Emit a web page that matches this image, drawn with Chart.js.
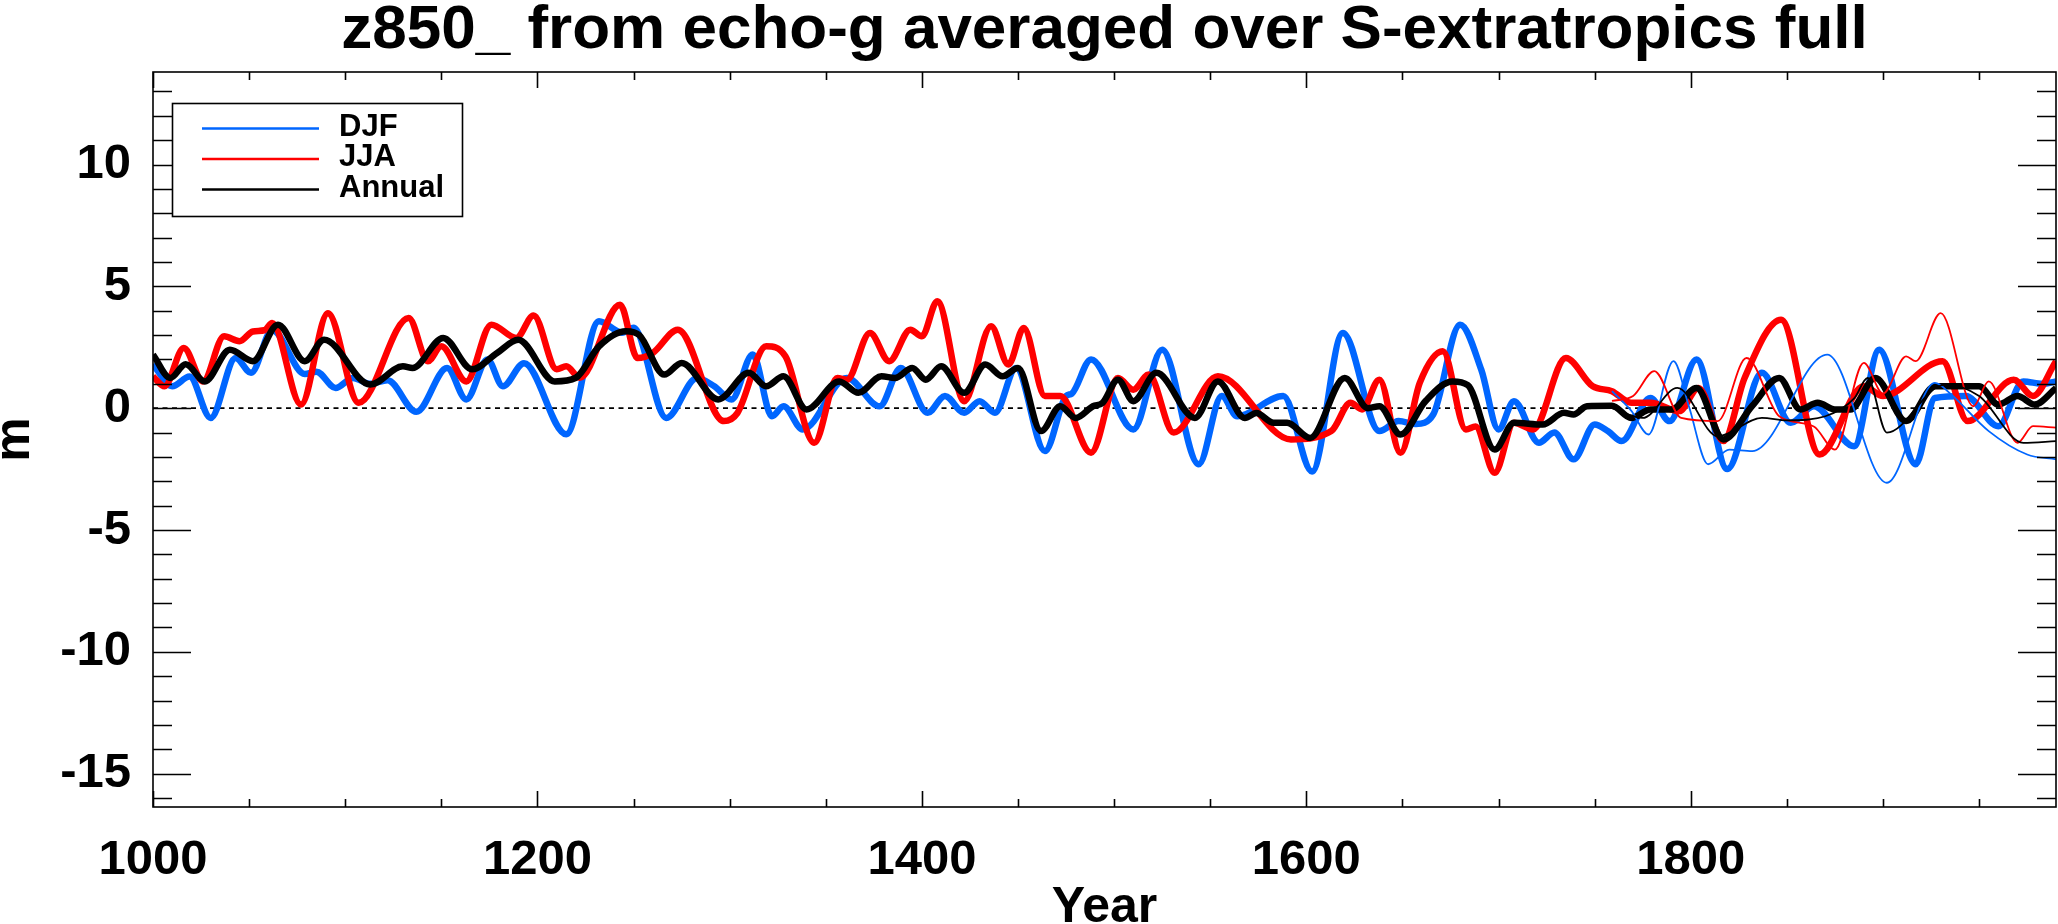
<!DOCTYPE html>
<html>
<head>
<meta charset="utf-8">
<script src="https://cdn.jsdelivr.net/npm/chart.js@4.4.1/dist/chart.umd.min.js"></script>
<style>
  html, body { margin: 0; padding: 0; background: #fff; }
</style>
</head>
<body>
<canvas id="chart" width="2058" height="924"></canvas>
<script>
// values (year, metres)
const djfYears = [1000,1010,1019,1030,1043,1051,1062,1079,1085,1095,1104,1113,1122,1137,1153,1163,1174,1182,1193,1215,1232,1244,1250,1267,1283,1292,1301,1312,1322,1328,1338,1361,1378,1389,1403,1412,1422,1430,1438,1449,1464,1475,1478,1488,1510,1525,1544,1556,1564,1588,1603,1619,1638,1648,1657,1666,1680,1691,1700,1708,1721,1729,1739,1750,1757,1764,1779,1789,1803,1819,1837,1852,1864,1885,1898,1917,1927,1943,1960,1973,1983,1990];
const djfValues = [1.8,0.9,1.3,-0.4,2.06,1.45,3.2,1.4,1.5,0.83,1.24,1.0,1.15,-0.15,1.65,0.36,2.0,0.9,1.85,-1.07,3.57,3.1,3.3,-0.4,1.24,0.9,0.36,2.2,-0.33,0.08,-0.87,1.24,0.08,1.65,-0.19,0.5,-0.19,0.29,-0.19,1.65,-1.76,0.5,0.6,2.0,-0.87,2.4,-2.3,0.5,-0.33,0.5,-2.6,3.09,-0.94,-0.53,-0.65,-0.26,3.43,1.58,-0.87,0.29,-1.42,-1.0,-2.1,-0.67,-0.95,-1.35,0.42,-0.53,2.0,-2.5,1.45,-0.6,0.08,-1.56,2.4,-2.3,0.42,0.5,-0.74,1.1,1.0,1.1];

const jjaYears = [1000,1006,1016,1026,1037,1045,1052,1058,1062,1077,1091,1107,1133,1143,1150,1163,1176,1189,1198,1210,1215,1222,1243,1252,1260,1273,1297,1304,1319,1329,1344,1356,1361,1373,1383,1394,1400,1408,1422,1436,1445,1453,1464,1472,1488,1502,1510,1518,1531,1554,1592,1613,1623,1629,1638,1649,1659,1671,1683,1688,1698,1708,1718,1735,1749,1759,1769,1779,1794,1804,1817,1828,1847,1867,1890,1900,1931,1944,1968,1978,1990];
const jjaValues = [1.3,0.9,2.47,1.1,2.95,2.75,3.15,3.2,3.5,0.15,3.9,0.22,3.7,1.93,2.54,1.1,3.43,2.88,3.8,1.6,1.72,1.25,4.25,2.06,2.27,3.22,-0.53,-0.2,2.54,2.13,-1.42,1.24,1.17,3.09,1.93,3.22,2.95,4.39,0.29,3.36,1.79,3.29,0.5,0.5,-1.83,1.24,0.76,1.38,-1.0,1.31,-1.28,-0.94,0.22,-0.05,1.17,-1.83,1.04,2.34,-0.87,-0.75,-2.65,-0.6,-0.87,2.06,0.9,0.7,0.22,0.22,-0.12,0.83,-1.35,1.24,3.63,-1.9,0.9,0.5,1.93,-0.53,1.17,0.5,1.93];

const annYears = [1000,1009,1017,1027,1040,1052,1065,1079,1089,1113,1130,1135,1151,1166,1179,1190,1209,1220,1232,1246,1253,1266,1275,1294,1310,1319,1328,1340,1357,1367,1379,1386,1395,1402,1410,1422,1433,1442,1450,1462,1472,1480,1489,1494,1502,1510,1522,1542,1554,1568,1574,1583,1590,1602,1620,1632,1638,1649,1662,1676,1684,1698,1708,1723,1734,1739,1746,1759,1769,1779,1790,1803,1817,1832,1846,1857,1866,1875,1883,1896,1912,1927,1950,1960,1970,1979,1990];
const annValues = [2.2,1.24,1.8,1.1,2.4,1.93,3.43,1.93,2.81,0.97,1.72,1.65,2.88,1.6,2.27,2.81,1.1,1.25,2.54,3.16,3.0,1.38,1.86,0.36,1.45,0.9,1.31,-0.05,1.1,0.63,1.31,1.24,1.65,1.17,1.72,0.63,1.79,1.31,1.65,-0.94,0.08,-0.4,0.08,0.22,1.17,0.29,1.45,-0.4,1.1,-0.4,-0.2,-0.6,-0.6,-1.22,1.24,0.0,0.08,-1.08,0.29,1.1,0.95,-1.7,-0.6,-0.67,-0.19,-0.26,0.08,0.1,-0.4,-0.05,-0.05,0.83,-1.28,0.1,1.24,-0.05,0.22,-0.05,-0.05,1.24,-0.53,0.9,0.9,0.15,0.5,0.15,0.83];

// thin lines over the last centuries
const djfThinYears = [1759,1769,1778,1791,1799,1809,1820,1832,1871,1902,1927,1935,1955,1975,1990];
const djfThinValues = [0.7,-0.1,-1.08,1.93,0.08,-2.3,-1.7,-1.76,2.2,-3.06,1.04,0.6,-0.94,-1.9,-2.1];
const jjaThinYears = [1759,1770,1781,1795,1814,1829,1846,1864,1875,1890,1900,1912,1917,1930,1947,1955,1970,1978,1990];
const jjaThinValues = [0.3,0.5,1.52,-0.4,-0.53,2.06,-0.33,-0.75,-1.7,1.86,0.6,2.13,1.93,3.9,0.08,1.1,-1.42,-0.74,-0.8];
const annThinYears = [1759,1775,1793,1814,1837,1850,1870,1885,1892,1902,1932,1950,1973,1990];
const annThinValues = [0.0,-0.4,0.83,-1.15,-0.4,-0.5,-0.33,0.4,1.24,-1.0,0.96,0.5,-1.42,-1.35];

const zeroYears = [1000, 1990];
const zeroValues = [0, 0];

const xMajorTicks = [1000, 1200, 1400, 1600, 1800];
const yMajorTicks = [-15, -10, -5, 0, 5, 10];
const xRange = [1000, 1990];
const yRange = [-16.37, 13.8];

const titleText = "z850_ from echo-g averaged over S-extratropics full";
const xTitle = "Year";
const yTitle = "m";

const BLUE = "rgb(0,102,255)";
const RED = "rgb(255,0,0)";
const FONT = '"Liberation Sans", Arial, Helvetica, sans-serif';

const toPoints = (xs, ys) => xs.map((x, i) => ({ x: x, y: ys[i] }));

const line = (label, xs, ys, color, width, order, inLegend) => ({
  label: label,
  data: toPoints(xs, ys),
  borderColor: color,
  borderWidth: width,
  pointRadius: 0,
  fill: false,
  cubicInterpolationMode: "monotone",
  order: order,
  inLegend: inLegend,
});

// box, inward ticks, titles and legend, IDL style
const framePlugin = {
  id: "frame",
  afterDatasetsDraw(chart) {
    const ctx = chart.ctx;
    const a = chart.chartArea;
    const xs = chart.scales.x;
    const ys = chart.scales.y;
    ctx.save();
    ctx.strokeStyle = "#000";
    ctx.lineWidth = 1.6;
    ctx.strokeRect(a.left, a.top, a.right - a.left, a.bottom - a.top);

    ctx.beginPath();
    for (let v = Math.ceil(yRange[0]); v <= yRange[1]; v++) {
      const y = Math.round(ys.getPixelForValue(v)) + 0.5;
      const len = yMajorTicks.includes(v) ? 38 : 19;
      ctx.moveTo(a.left, y); ctx.lineTo(a.left + len, y);
      ctx.moveTo(a.right, y); ctx.lineTo(a.right - len, y);
    }
    for (let v = xRange[0]; v <= xRange[1]; v += 50) {
      const x = Math.round(xs.getPixelForValue(v)) + 0.5;
      const len = xMajorTicks.includes(v) ? 16 : 8;
      ctx.moveTo(x, a.bottom); ctx.lineTo(x, a.bottom - len);
      ctx.moveTo(x, a.top); ctx.lineTo(x, a.top + len);
    }
    ctx.stroke();

    // titles
    ctx.fillStyle = "#000";
    ctx.textAlign = "center";
    ctx.textBaseline = "alphabetic";
    const cx = (a.left + a.right) / 2;
    ctx.font = "bold 62px " + FONT;
    ctx.fillText(titleText, cx, 48);
    ctx.font = "bold 50px " + FONT;
    ctx.fillText(xTitle, cx, 922);
    ctx.save();
    ctx.translate(29, (a.top + a.bottom) / 2);
    ctx.rotate(-Math.PI / 2);
    ctx.fillText(yTitle, 0, 0);
    ctx.restore();

    // legend
    const items = chart.data.datasets.filter((d) => d.inLegend);
    const bx = 172, by = 103, bw = 290, bh = 113;
    ctx.fillStyle = "#fff";
    ctx.fillRect(bx, by, bw, bh);
    ctx.lineWidth = 1.6;
    ctx.strokeStyle = "#000";
    ctx.strokeRect(bx + 0.5, by + 0.5, bw, bh);
    ctx.font = "bold 31px " + FONT;
    ctx.textAlign = "left";
    items.forEach((d, i) => {
      const y = 128.5 + i * 30.5;
      ctx.strokeStyle = d.borderColor;
      ctx.lineWidth = 2.5;
      ctx.beginPath();
      ctx.moveTo(202, y); ctx.lineTo(319, y);
      ctx.stroke();
      ctx.fillStyle = "#000";
      ctx.fillText(d.label, 339, y + 7);
    });
    ctx.restore();
  },
};

const tickFont = { family: FONT, size: 49, weight: "bold" };

new Chart(document.getElementById("chart"), {
  type: "line",
  data: {
    datasets: [
      line("DJF", djfYears, djfValues, BLUE, 6.5, 6, true),
      line("JJA", jjaYears, jjaValues, RED, 6.5, 5, true),
      line("Annual", annYears, annValues, "#000", 6.5, 4, true),
      line("DJF thin", djfThinYears, djfThinValues, BLUE, 1.8, 3, false),
      line("JJA thin", jjaThinYears, jjaThinValues, RED, 1.8, 2, false),
      line("Annual thin", annThinYears, annThinValues, "#000", 1.8, 1, false),
      Object.assign(line("zero", zeroYears, zeroValues, "#000", 1.7, 7, false), {
        borderDash: [5, 4.5],
        cubicInterpolationMode: "default",
      }),
    ],
  },
  options: {
    responsive: false,
    devicePixelRatio: 1,
    animation: false,
    layout: { padding: { left: 0, right: 2, top: 72, bottom: 0 } },
    plugins: {
      legend: { display: false },
      title: { display: false },
      tooltip: { enabled: false },
    },
    scales: {
      x: {
        type: "linear",
        min: xRange[0],
        max: xRange[1],
        grid: { display: false },
        border: { display: false },
        afterBuildTicks: (axis) => {
          axis.ticks = xMajorTicks.map((v) => ({ value: v }));
        },
        afterFit: (axis) => {
          axis.height = 117;
        },
        ticks: {
          font: tickFont,
          color: "#000",
          padding: 16,
          autoSkip: false,
          maxRotation: 0,
          callback: (v) => String(v),
        },
      },
      y: {
        type: "linear",
        min: yRange[0],
        max: yRange[1],
        grid: { display: false },
        border: { display: false },
        afterBuildTicks: (axis) => {
          axis.ticks = yMajorTicks.map((v) => ({ value: v }));
        },
        afterFit: (axis) => {
          axis.width = 153;
        },
        ticks: {
          font: tickFont,
          color: "#000",
          padding: 14,
          callback: (v) => String(v),
        },
      },
    },
  },
  plugins: [framePlugin],
});
</script>
</body>
</html>
